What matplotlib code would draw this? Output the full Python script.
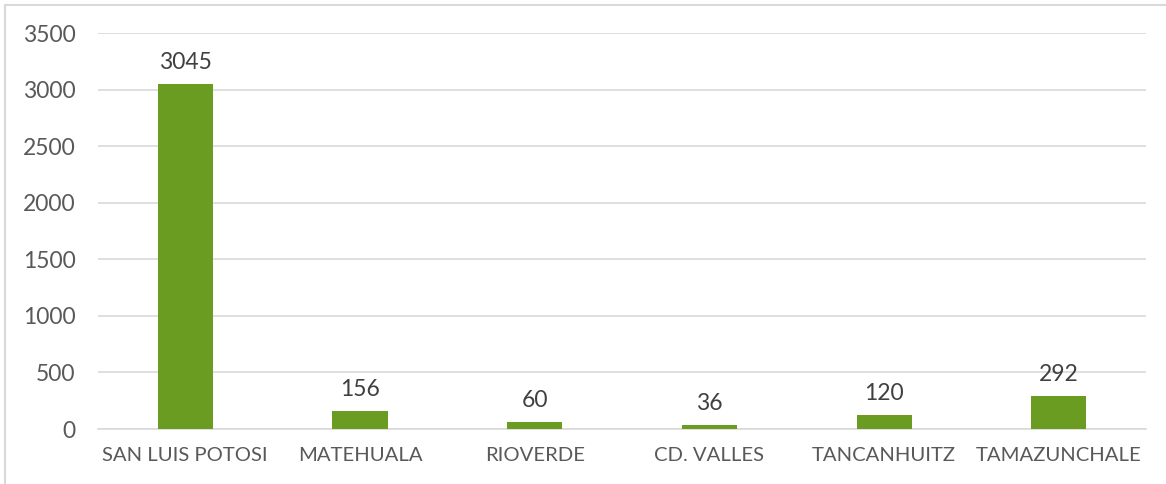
"""
Bar chart: cases by municipality (San Luis Potosi).
"""

import matplotlib.pyplot as plt
from matplotlib.patches import Rectangle

municipios = ["SAN LUIS POTOSI", "MATEHUALA", "RIOVERDE", "CD. VALLES",
              "TANCANHUITZ", "TAMAZUNCHALE"]
casos = [3045, 156, 60, 36, 120, 292]
yticks = [0, 500, 1000, 1500, 2000, 2500, 3000, 3500]

BAR = "#6A9C22"
TEXT = "#595959"
GRID = "#D9D9D9"

plt.rcParams["font.family"] = ["Lato", "DejaVu Sans"]

fig = plt.figure(figsize=(11.66, 4.84), dpi=100)
ax = fig.add_axes([0.084, 0.1136, 0.899, 0.8182])

x = range(len(municipios))
bars = ax.bar(x, casos, width=0.315, color=BAR, zorder=3)

# value labels above each bar
for rect, v in zip(bars, casos):
    ax.annotate(str(v), (rect.get_x() + rect.get_width() / 2, v),
                xytext=(0, 8), textcoords="offset points",
                ha="center", va="bottom", fontsize=16.5, color="#404040")

ax.set_xlim(-0.5, len(municipios) - 0.5)
ax.set_ylim(0, 3500)
ax.set_yticks(yticks)
ax.set_xticks(list(x))
ax.set_xticklabels(municipios)
ax.yaxis.grid(True, color=GRID, linewidth=1.2, zorder=0)
ax.tick_params(axis="y", length=0, pad=16, labelsize=16.5, labelcolor=TEXT)
ax.tick_params(axis="x", length=0, pad=13, labelsize=14.6, labelcolor=TEXT)
for side in ["top", "right", "left"]:
    ax.spines[side].set_visible(False)
ax.spines["bottom"].set_color(GRID)
ax.spines["bottom"].set_linewidth(1.2)

# light chart-area border (left and top edges visible)
fig.patches.append(Rectangle((5 / 1166, -0.1), 1.2, 1 - 5 / 484 + 0.1,
                             transform=fig.transFigure, fill=False,
                             edgecolor=GRID, linewidth=1.5))

fig.savefig("out.png", dpi=100)
